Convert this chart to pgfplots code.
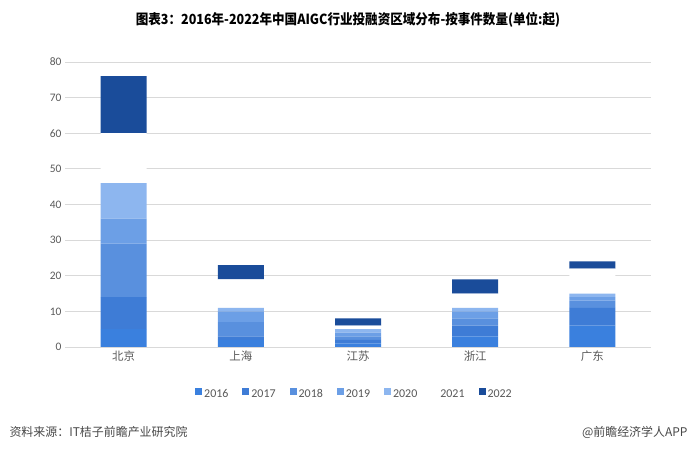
\documentclass[border=0pt]{standalone}
\usepackage{fontspec}
\setmainfont{Carlito}
\newfontfamily\cjk{Noto Sans CJK SC}
\usepackage{pgfplots}
\pgfplotsset{compat=1.18}
\usepackage{pgfplotstable}

\definecolor{c16}{HTML}{3A80DE}
\definecolor{c17}{HTML}{3E7CD6}
\definecolor{c18}{HTML}{5990DE}
\definecolor{c19}{HTML}{6C9FE6}
\definecolor{c20}{HTML}{8DB6EF}
\definecolor{c22}{HTML}{1A4C9A}
\definecolor{gridc}{HTML}{D9D9D9}
\definecolor{txt}{HTML}{595959}

% 北京 上海 江苏 浙江 广东
\pgfplotstableread{
x y16 y17 y18 y19 y20 y21 y22
0 5 9 15 7 10 14 16
1 2 1 4 3 1 8 4
2 1 1 1 1 1 1 2
3 3 3 2 2 1 4 4
4 6 5 2 1 1 7 2
}\regions

\begin{document}
\begin{tikzpicture}[x=1bp,y=1bp]
\path[use as bounding box] (0,0) rectangle (693,451);

\node at (348,431) {\scalebox{0.9}[1]{\cjk\bfseries\fontsize{14}{16}\selectfont 图表3：2016年-2022年中国AIGC行业投融资区域分布-按事件数量(单位:起)}};

\begin{axis}[
  at={(65bp,104bp)}, anchor=south west,
  scale only axis, width=586bp, height=285bp,
  ybar stacked, bar width=46bp,
  xmin=-0.5, xmax=4.5, ymin=0, ymax=80,
  ytick={0,10,...,80},
  xtick=data,
  xticklabels={北京,上海,江苏,浙江,广东},
  xticklabel style={font=\cjk\fontsize{11.5}{13}\selectfont, text=txt},
  yticklabel style={font=\fontsize{11.5}{13}\selectfont, text=txt},
  /pgf/number format/assume math mode=true,
  axis line style={draw=none},
  tick style={draw=none},
  ymajorgrids, grid style={gridc, line width=0.8pt},
  legend columns=7,
  legend style={draw=none, at={(0.494,-0.165)}, anchor=center,
    font=\fontsize{12}{14}\selectfont, text=txt,
    /tikz/every even column/.append style={column sep=12bp}},
  legend image code/.code={\fill[#1] (0bp,-1bp) rectangle (7bp,6bp);},
]
\addplot[fill=c16, draw=none] table[x=x, y=y16] {\regions};
\addplot[fill=c17, draw=none] table[x=x, y=y17] {\regions};
\addplot[fill=c18, draw=none] table[x=x, y=y18] {\regions};
\addplot[fill=c19, draw=none] table[x=x, y=y19] {\regions};
\addplot[fill=c20, draw=none] table[x=x, y=y20] {\regions};
\addplot[fill=white, draw=none] table[x=x, y=y21] {\regions};
\addplot[fill=c22, draw=none] table[x=x, y=y22] {\regions};
\legend{2016,2017,2018,2019,2020,2021,2022}
\end{axis}

\node[anchor=west, font=\cjk\fontsize{12}{14}\selectfont, text=txt!80!black] at (6,19) {资料来源：IT桔子前瞻产业研究院};
\node[anchor=east, font=\cjk\fontsize{12}{14}\selectfont, text=txt!80!black] at (691,19) {@前瞻经济学人APP};
\end{tikzpicture}
\end{document}
